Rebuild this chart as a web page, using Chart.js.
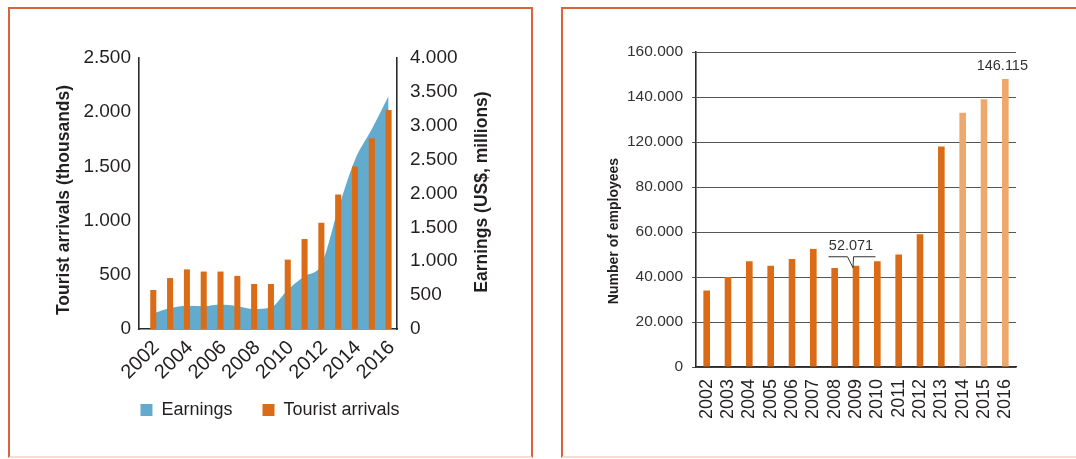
<!DOCTYPE html>
<html>
<head>
<meta charset="utf-8">
<script src="https://cdn.jsdelivr.net/npm/chart.js@4.4.1/dist/chart.umd.min.js"></script>
<style>
html,body{margin:0;padding:0;background:#fff;}
#wrap{position:relative;width:1076px;height:459px;overflow:hidden;background:#fff;}
.panel{position:absolute;box-sizing:border-box;border:2px solid #D9643A;border-bottom:2px solid #F6DDD3;pointer-events:none;}
#p1{left:8px;top:7px;width:525px;height:451px;}
#p2{left:561px;top:7px;width:530px;height:451px;}
canvas{position:absolute;top:0;}
#c1{left:0;}
#c2{left:540px;}
</style>
</head>
<body>
<div id="wrap">
  <canvas id="c1" width="540" height="459"></canvas>
  <canvas id="c2" width="536" height="459"></canvas>
  <div class="panel" id="p1"></div>
  <div class="panel" id="p2"></div>
</div>
<script>
// ---------- DATA ----------
const years = ['2002','2003','2004','2005','2006','2007','2008','2009','2010','2011','2012','2013','2014','2015','2016'];
const touristArrivals = [360, 470, 550, 530, 530, 490, 415, 415, 640, 830, 980, 1240, 1500, 1760, 2020];
const earnings = [230, 310, 345, 335, 360, 335, 295, 320, 580, 780, 950, 1770, 2500, 2950, 3440];
const arrivalsTickLabels = ['0', '500', '1.000', '1.500', '2.000', '2.500'];
const earningsTickLabels = ['0', '500', '1.000', '1.500', '2.000', '2.500', '3.000', '3.500', '4.000'];

const employees = [34000, 40000, 47000, 45000, 48000, 52500, 44000, 45000, 47000, 50000, 59000, 116000, 133000, 139000, 148000];
const estimatedYears = ['2014', '2015', '2016'];
const employeeTickValues = [0, 20000, 40000, 60000, 80000, 120000, 140000, 160000];
const employeeTickLabels = ['0', '20.000', '40.000', '60.000', '80.000', '120.000', '140.000', '160.000'];
const calloutYears = ['2009', '2016'];
const calloutTexts = ['52.071', '146.115'];

// ---------- STYLE ----------
const FONT = "'Liberation Sans', Arial, sans-serif";
const BLUE = '#62ABCD';
const ORANGE = '#DA6C17';
const LIGHT_ORANGE = '#EDA96C';
const TEXT = '#231F20';

// Custom y scale with evenly spaced ticks whose values are not evenly spaced (as printed)
class BrokenLinearScale extends Chart.LinearScale {
  buildTicks() {
    this.min = employeeTickValues[0];
    this.max = employeeTickValues[employeeTickValues.length - 1];
    return employeeTickValues.map(v => ({ value: v }));
  }
  _segFrac(value) {
    const t = employeeTickValues, n = t.length - 1;
    let i = 0;
    while (i < n - 1 && value > t[i + 1]) i++;
    return (i + (value - t[i]) / (t[i + 1] - t[i])) / n;
  }
  getPixelForValue(value) {
    return this.getPixelForDecimal(this._segFrac(value));
  }
  getValueForPixel(pixel) {
    const t = employeeTickValues, n = t.length - 1;
    const d = this.getDecimalForPixel(pixel) * n;
    const i = Math.min(Math.max(Math.floor(d), 0), n - 1);
    return t[i] + (d - i) * (t[i + 1] - t[i]);
  }
}
BrokenLinearScale.id = 'brokenLinear';
BrokenLinearScale.defaults = Chart.LinearScale.defaults;
Chart.register(BrokenLinearScale);

const axisTitles = {
  id: 'axisTitles',
  afterDraw(chart, args, opts) {
    const ctx = chart.ctx;
    (opts.items || []).forEach(it => {
      ctx.save();
      ctx.translate(it.x, it.y);
      ctx.rotate(-Math.PI / 2);
      ctx.font = it.font;
      ctx.fillStyle = it.color;
      ctx.textAlign = 'center';
      ctx.textBaseline = 'middle';
      ctx.fillText(it.text, 0, 0);
      ctx.restore();
    });
  }
};

const callouts = {
  id: 'callouts',
  afterDatasetsDraw(chart) {
    const ctx = chart.ctx;
    const meta = chart.getDatasetMeta(0);
    ctx.save();
    ctx.font = '14.5px ' + FONT;
    ctx.fillStyle = '#333';
    ctx.textAlign = 'center';
    ctx.textBaseline = 'middle';
    calloutYears.forEach((yr, k) => {
      const bar = meta.data[years.indexOf(yr)];
      const bx = bar.x, by = bar.y;
      if (k === 0) {
        const ly = by - 9;
        ctx.strokeStyle = '#333';
        ctx.lineWidth = 1;
        ctx.beginPath();
        ctx.moveTo(bx - 27.5, ly);
        ctx.lineTo(bx - 8.5, ly);
        ctx.lineTo(bx - 3, by + 2);
        ctx.lineTo(bx - 2.5, ly);
        ctx.lineTo(bx + 19.5, ly);
        ctx.stroke();
        ctx.fillText(calloutTexts[k], bx - 5, ly - 11);
      } else {
        ctx.fillText(calloutTexts[k], bx - 3, by - 13);
      }
    });
    ctx.restore();
  }
};

// ---------- LEFT CHART ----------
new Chart(document.getElementById('c1'), {
  type: 'bar',
  data: {
    labels: years,
    datasets: [
      {
        type: 'line',
        label: 'Earnings',
        data: earnings,
        yAxisID: 'y2',
        backgroundColor: BLUE,
        borderColor: BLUE,
        borderWidth: 0,
        pointRadius: 0,
        fill: 'origin',
        cubicInterpolationMode: 'monotone',
        order: 2
      },
      {
        type: 'bar',
        label: 'Tourist arrivals',
        data: touristArrivals,
        yAxisID: 'y',
        backgroundColor: ORANGE,
        borderWidth: 0,
        categoryPercentage: 1,
        barPercentage: 0.36,
        order: 1
      }
    ]
  },
  options: {
    responsive: false,
    animation: false,
    events: [],
    layout: { padding: { left: 0, right: 0, top: 58, bottom: 30 } },
    plugins: {
      tooltip: { enabled: false },
      legend: {
        position: 'bottom',
        labels: {
          boxWidth: 12, boxHeight: 12, padding: 30, color: TEXT,
          font: { family: FONT, size: 18 },
          sort: (a, b) => a.datasetIndex - b.datasetIndex
        }
      },
      axisTitles: {
        items: [
          { text: 'Tourist arrivals (thousands)', x: 64.5, y: 200, font: 'bold 17.5px ' + FONT, color: TEXT },
          { text: 'Earnings (US$, millions)', x: 482, y: 192, font: 'bold 17.5px ' + FONT, color: TEXT }
        ]
      }
    },
    scales: {
      x: {
        grid: { display: false, drawTicks: false },
        border: { display: true, color: '#2b2b2b', width: 1.6 },
        afterBuildTicks(s) { s._startValue -= 0.35; s._valueRange += 0.35; },
        ticks: {
          autoSkip: false, minRotation: 45, maxRotation: 45, padding: 7, labelOffset: 3,
          color: TEXT, font: { family: FONT, size: 20 },
          callback(v, i) { return i % 2 === 0 ? years[i] : ''; }
        },
        afterFit(s) { s.height = 42; s._computeLabelArea = () => undefined; }
      },
      y: {
        position: 'left', min: 0, max: 2500,
        grid: { display: false, drawTicks: false },
        border: { display: true, color: '#2b2b2b', width: 1.6 },
        ticks: {
          stepSize: 500, padding: 8, color: TEXT, font: { family: FONT, size: 19 },
          callback(v) { return arrivalsTickLabels[Math.round(v / 500)]; }
        },
        afterFit(s) { s.width = 139; }
      },
      y2: {
        position: 'right', min: 0, max: 4000,
        grid: { display: false, drawTicks: false },
        border: { display: true, color: '#2b2b2b', width: 1.6 },
        ticks: {
          stepSize: 500, padding: 13, color: TEXT, font: { family: FONT, size: 19 },
          callback(v) { return earningsTickLabels[Math.round(v / 500)]; }
        },
        afterFit(s) { s.width = 143; }
      }
    }
  },
  plugins: [axisTitles]
});

// ---------- RIGHT CHART ----------
new Chart(document.getElementById('c2'), {
  type: 'bar',
  data: {
    labels: years,
    datasets: [{
      label: 'Number of employees',
      data: employees,
      backgroundColor: years.map(y => estimatedYears.includes(y) ? LIGHT_ORANGE : ORANGE),
      borderWidth: 0,
      categoryPercentage: 1,
      barPercentage: 0.31
    }]
  },
  options: {
    responsive: false,
    animation: false,
    events: [],
    layout: { padding: { left: 0, right: 60, top: 52, bottom: 0 } },
    plugins: {
      legend: { display: false },
      tooltip: { enabled: false },
      axisTitles: {
        items: [
          { text: 'Number of employees', x: 74, y: 231, font: 'bold 14px ' + FONT, color: TEXT }
        ]
      }
    },
    scales: {
      x: {
        grid: { display: false, drawTicks: false },
        border: { display: true, color: '#2b2b2b', width: 1.6 },
        ticks: {
          autoSkip: false, minRotation: 90, maxRotation: 90, padding: 12,
          color: TEXT, font: { family: FONT, size: 18 }
        },
        afterFit(s) { s.height = 92; }
      },
      y: {
        type: 'brokenLinear',
        position: 'left',
        grid: { color: '#555', lineWidth: 1, drawTicks: true, tickLength: 4, tickColor: '#555' },
        border: { display: true, color: '#2b2b2b', width: 1.6 },
        ticks: {
          padding: 9, color: '#333', font: { family: FONT, size: 15.5 },
          callback(v) { return employeeTickLabels[employeeTickValues.indexOf(v)]; }
        },
        afterFit(s) { s.width = 156; }
      }
    }
  },
  plugins: [axisTitles, callouts]
});
</script>
</body>
</html>
